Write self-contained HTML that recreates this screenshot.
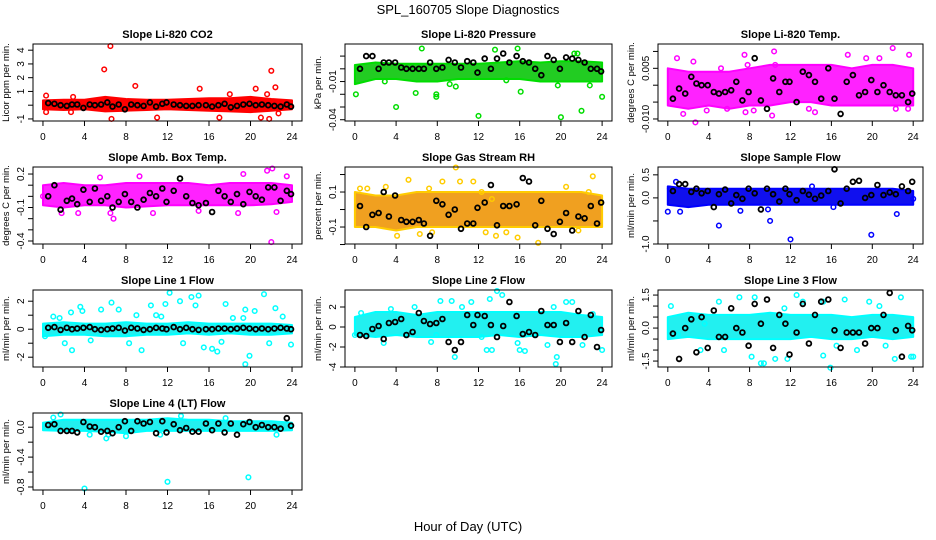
<!DOCTYPE html>
<html><head><meta charset="utf-8">
<style>
html,body{margin:0;padding:0;background:#fff;}
svg{display:block;font-family:"Liberation Sans",sans-serif;}
</style></head>
<body>
<svg id="chart" width="936" height="540" viewBox="0 0 936 540" xmlns="http://www.w3.org/2000/svg">
<rect x="0" y="0" width="936" height="540" fill="#fff"/>
<text x="468" y="14" text-anchor="middle" font-size="13">SPL_160705  Slope Diagnostics</text>
<text x="468" y="531" text-anchor="middle" font-size="13">Hour of Day (UTC)</text>
</svg>
<script>
const xTicks=[0,4,8,12,16,20,24];
const bandHours=[0,2,4,6,8,10,12,14,16,18,20,22,24];
const blkX=[0.5,1.1,1.7,2.3,2.8,3.3,3.9,4.5,5.0,5.6,6.2,6.7,7.3,7.9,8.5,9.1,9.7,10.3,10.9,11.5,11.9,12.6,13.2,13.8,14.4,15.0,15.7,16.3,16.9,17.5,18.1,18.7,19.3,19.9,20.5,21.1,21.7,22.3,22.9,23.5,23.9];

const co2Lo=[-0.3,-0.35,-0.3,-0.45,-0.4,-0.35,-0.3,-0.35,-0.4,-0.45,-0.5,-0.4,-0.3];
const co2Hi=[0.35,0.4,0.4,0.6,0.45,0.4,0.4,0.45,0.5,0.5,0.6,0.45,0.35];
const co2OutX=[6.5,5.9,22,22.4,8.9,15.1,20.5,11,6.6,17,21,21.8,0.3,2.9,18,21.6,0.3,2.7,22.7];
const co2OutY=[4.3,2.6,2.5,1.3,1.4,1.2,1.2,-0.9,-1,-0.9,-0.9,-1,0.7,0.6,0.8,0.8,-0.5,-0.5,-0.6];
const co2Blk=[0.15,0.1,0,-0.05,0.05,0.05,-0.2,0.05,0,0.05,0.2,-0.1,0.05,-0.3,0.05,0,-0.05,0.2,-0.1,0.1,0.2,0.05,0,-0.05,-0.05,0,0,-0.1,0,0.1,-0.15,-0.05,0.05,0.1,0,0.05,0,-0.05,-0.1,0.05,-0.1];

const prLo=[-0.012,-0.008,-0.008,-0.01,-0.01,-0.008,-0.008,-0.008,-0.008,-0.01,-0.01,-0.01,-0.01];
const prHi=[0.003,0.005,0.004,0.004,0.004,0.004,0.004,0.005,0.006,0.005,0.006,0.006,0.005];
const prOutX=[0.1,4,6.5,5.9,7.9,7.9,12,20,22,24,13.6,15.8,9.2,9.8,19.7,22.8,2.9,14.7,0.4,21.3,21.6,16.1];
const prOutY=[-0.02,-0.03,0.016,-0.019,-0.02,-0.022,-0.037,-0.038,-0.033,-0.022,0.015,0.016,-0.012,-0.014,-0.013,-0.013,-0.01,-0.009,0.0,0.012,0.012,-0.018];
const prBlk=[0,0.01,0.01,0,0.005,0.005,0.005,0.001,0,0,0,0,0.005,0,0.001,0.007,0.005,0.001,0.006,0.005,-0.003,0.008,0,0.008,0.012,0.005,0.01,0.006,0.005,0,-0.005,0.01,0.007,0,0.009,0.008,0.007,0.005,0,0,-0.002];

const tpLo=[-0.006,-0.007,-0.006,-0.007,-0.006,-0.006,-0.005,-0.005,-0.006,-0.006,-0.006,-0.006,-0.006];
const tpHi=[0.005,0.004,0.004,0.004,0.005,0.006,0.006,0.006,0.006,0.005,0.006,0.006,0.005];
const tpOutX=[0.9,2.5,5.2,7.5,7.8,10.4,10.5,17.6,19.4,20.7,22,23.6,1.5,3.8,5.8,7.6,8.4,10.2,14.4,22.3,23.5,2.7,13.8];
const tpOutY=[0.008,0.007,0.005,0.009,0.006,0.010,0.006,0.009,0.008,0.008,0.011,0.009,-0.0085,-0.0075,-0.007,-0.008,-0.0075,-0.009,-0.008,-0.007,-0.007,-0.011,-0.007];
const tpBlk=[-0.004,-0.001,-0.0025,0.0025,0.0005,0,0,-0.002,-0.0025,-0.002,-0.0015,0.001,-0.0045,-0.002,0.008,-0.0045,-0.007,0.002,-0.002,0.001,0.001,-0.005,0.004,0.003,0.001,-0.004,0.005,-0.004,-0.0085,0.001,0.003,-0.003,-0.002,0.0015,-0.002,0,-0.002,-0.003,-0.003,-0.005,-0.0025];

const abLo=[-0.08,-0.1,-0.08,-0.08,-0.1,-0.09,-0.08,-0.08,-0.08,-0.08,-0.08,-0.07,-0.05];
const abHi=[0.1,0.12,0.1,0.1,0.12,0.12,0.12,0.12,0.1,0.12,0.12,0.12,0.1];
const abOutX=[1.8,3.4,6.5,6.8,10.6,18.8,19.3,21.6,22.1,23.5,22,22.5,0,15,5.5,9.3];
const abOutY=[-0.15,-0.15,-0.15,-0.2,-0.15,-0.15,0.2,0.23,0.25,0.18,-0.41,-0.14,0,-0.13,0.17,0.18];
const abBlk=[0.0,0.1,-0.12,-0.04,-0.02,-0.07,0.06,-0.05,0.07,-0.04,0,-0.1,-0.05,0.02,-0.05,-0.1,-0.03,0.03,0,0.07,-0.05,0.05,0.16,0,-0.06,-0.08,-0.06,-0.14,0.05,0,-0.05,0.02,-0.07,0.04,0.0,-0.03,0.08,0.08,-0.04,0.05,0.02];

const rhLo=[-0.1,-0.1,-0.12,-0.1,-0.1,-0.1,-0.1,-0.1,-0.1,-0.1,-0.1,-0.1,-0.1];
const rhHi=[0.1,0.08,0.08,0.1,0.1,0.1,0.1,0.1,0.1,0.1,0.1,0.1,0.08];
const rhOutX=[0.5,1.2,3,5.2,7.2,8.5,9.8,10.2,11.5,12.3,13.3,4.1,6.3,7.5,12.7,13.7,14.7,15.8,17.8,21.7,23.1,20.5,22.7];
const rhOutY=[0.12,0.12,0.13,0.17,0.12,0.16,0.24,0.16,0.16,0.1,0.06,-0.15,-0.14,-0.13,-0.13,-0.15,-0.13,-0.16,-0.19,-0.12,0.19,0.13,0.1];
const rhBlk=[0.02,-0.1,-0.03,-0.02,0.1,-0.04,0.08,-0.06,-0.07,-0.07,-0.06,-0.08,-0.15,0.05,0.03,-0.03,0.0,-0.11,-0.08,-0.08,0.01,0.04,0.14,-0.09,0.02,0.02,0.03,0.18,0.16,-0.09,0.05,-0.11,-0.14,-0.07,-0.02,-0.12,-0.04,-0.05,0.02,-0.08,0.04];

const sfLo=[-0.15,-0.2,-0.15,-0.15,-0.15,-0.15,-0.15,-0.15,-0.15,-0.15,-0.15,-0.15,-0.15];
const sfHi=[0.25,0.2,0.2,0.2,0.2,0.2,0.2,0.2,0.2,0.2,0.2,0.2,0.15];
const sfOutX=[0,1.2,0.8,5,10,12,19.9,22.4,0.2,9.8,7.1,16.2,14.1,24];
const sfOutY=[-0.3,-0.3,0.35,-0.6,-0.5,-0.9,-0.8,-0.35,0.2,-0.25,-0.28,-0.2,0.25,-0.02];
const sfBlk=[0.15,0.3,0.3,0.13,0.2,0.1,0.15,-0.2,0.08,0.18,-0.12,0.06,-0.02,0.2,0.1,-0.25,0.2,0.08,-0.08,0.2,0.08,-0.05,0.15,0.07,-0.02,0.05,0.15,0.62,-0.12,0.2,0.35,0.37,0.0,0.06,0.28,0.06,0.12,0.08,0.25,0.15,0.35];

const l1Lo=[-0.5,-0.4,-0.4,-0.5,-0.5,-0.4,-0.4,-0.3,-0.4,-0.3,-0.4,-0.4,-0.3];
const l1Hi=[0.4,0.5,0.4,0.4,0.5,0.4,0.4,0.5,0.4,0.4,0.4,0.4,0.3];
const l1OutX=[0.2,1,1.6,2.7,3.6,3.8,2.1,2.8,6.6,5.6,4.6,7.3,8.3,9.5,10.4,11.4,11.8,12.2,13.2,13.5,14.3,15,14.7,15.5,16.3,16.8,17.6,18.3,19.3,19.5,19.5,19.9,20.4,21.3,21.8,22.4,23.1,23.9,17.2,9,10.9];
const l1OutY=[-0.5,0.9,0.8,1.2,1.6,1.3,-1,-1.5,1.9,1.4,-0.8,1.4,-1,-1.5,1.7,0.9,1.8,2.6,2,-1,2.3,2.4,1.7,-1.3,-1.4,-1.6,1.8,0.8,0.8,1.4,-2.5,-1.9,1.3,2.5,-1,1.5,0.9,-1.1,-0.9,1,1];
const l1Blk=[0.1,0.15,-0.05,0.1,0.0,0.05,0.1,0.15,0.0,-0.05,0.0,0.05,0.1,-0.1,0.1,0.05,-0.05,0.0,0.1,0.05,0.0,0.15,0.0,0.1,0.0,-0.05,0.0,0.0,0.05,0.05,0.0,0.05,0.1,0.05,0.0,0.05,0.0,0.05,0.1,0.05,0.0];

const l2Lo=[-0.8,-1,-0.8,-1,-1,-1,-1,-0.8,-1,-0.8,-1,-1,-0.8];
const l2Hi=[1,1.5,1.5,1.2,1.5,1.5,1.5,1.5,1.5,1.5,1.5,1.2,1];
const l2OutX=[0.6,2.8,3.5,5.8,7.4,8.3,9.4,9.7,10.4,11.3,12.3,12.8,13.1,13.8,14.3,13.3,15.8,16,16.5,18.7,19.3,19.5,19.6,20.5,21.1,22.1,23.1,24,7.9,0];
const l2OutY=[1.4,-1.6,1.8,2,-1.5,2.6,2.6,-3,2,2.5,-1,-2.3,2.8,3.6,3.2,-2.3,-1.6,-2.3,-2.4,-1.8,2,-3.7,-3,2.5,2.5,-1.8,1.3,-2.3,-0.8,-0.8];
const l2Blk=[-0.8,-0.9,-0.2,0.1,-1.2,0.4,0.5,0.8,-0.8,-0.5,1.4,0.6,0.3,0.4,0.8,-1.5,-2.3,-1.5,1.2,0.2,1.2,1.1,0.2,-1,0.1,2.5,1.1,-0.7,-0.5,-0.8,1.6,0.2,0.2,-1.5,0.4,-1.5,1.6,-1,1.2,-2,-0.3];

const l3Lo=[-0.5,-0.4,-0.5,-0.5,-0.5,-0.5,-0.5,-0.4,-0.5,-0.5,-0.4,-0.5,-0.4];
const l3Hi=[0.5,0.7,0.6,0.6,0.6,0.7,0.6,0.6,0.6,0.5,0.6,0.6,0.5];
const l3OutX=[0.3,1,3.2,3.6,5,5.5,7,8.5,9.1,9.4,8.2,10.5,11.7,11.4,12.6,13.2,15.2,15.2,15.9,17.3,18.5,19.7,20.7,21.3,22.2,22.8,23.8,24,16.5];
const l3OutY=[1.0,-0.3,-1,0.2,1.2,-1,1.4,1.4,-1.6,-1.6,-1.3,-1.4,-1.4,0.9,1.5,1.2,1.2,-1.25,-1.8,1.3,-1.0,1.2,1.0,-0.8,-1.4,1.4,-1.3,-1.3,-0.8];
const l3Blk=[-0.25,-1.4,0,0.4,-1.1,0.5,-0.9,0.8,-0.4,-0.4,0.9,0.0,-0.2,-0.8,1.1,0.2,1.3,-0.9,0.6,0.2,-1.2,-0.2,1.1,-0.7,0.6,1.2,1.3,-0.1,-0.9,-0.2,-0.2,-0.2,-0.7,0.0,0.0,0.6,1.6,-0.1,-1.3,0.1,-0.1];

const l4Lo=[-0.04,-0.05,-0.05,-0.06,-0.08,-0.05,-0.05,-0.05,-0.05,-0.05,-0.05,-0.05,-0.04];
const l4Hi=[0.06,0.1,0.1,0.1,0.1,0.1,0.12,0.1,0.1,0.08,0.08,0.08,0.06];
const l4OutX=[1.7,1,6.1,4,12,19.8,13.3,17.6,4.5,8,11.3,22.5,6.3];
const l4OutY=[0.17,0.13,-0.15,-0.82,-0.73,-0.67,0.15,0.12,-0.1,-0.12,-0.1,-0.1,-0.1];
const l4Blk=[0.03,0.04,-0.05,-0.05,-0.05,-0.07,0.07,0.01,0.0,-0.06,-0.05,-0.08,0.0,0.08,-0.05,0.08,0.05,0.07,-0.08,0.08,-0.07,0.04,-0.04,-0.01,-0.06,-0.06,0.05,-0.04,0.05,-0.07,0.05,-0.1,0.04,0.07,0.0,0.03,0.0,0.0,-0.02,0.12,0.02];

const NS="http://www.w3.org/2000/svg";
const svg=document.getElementById('chart');
const colX=[[33,302],[345,612],[658,923]];
const rowY=[44,167,290,413];
const BH=77;
function mk(tag,attrs,parent){const e=document.createElementNS(NS,tag);for(const k in attrs)e.setAttribute(k,attrs[k]);(parent||svg).appendChild(e);return e;}

const panels=[
 {id:'co2',title:'Slope Li-820 CO2',ylab:'Licor ppm per min.',c:0,r:0,ymin:-1.15,ymax:4.45,yt:[-1,0,1,2,3,4],yl:['-1','','1','2','3','4'],col:'#ff0000',fill:'#ff0000',lo:co2Lo,hi:co2Hi,ox:co2OutX,oy:co2OutY,blk:co2Blk},
 {id:'pressure',title:'Slope Li-820 Pressure',ylab:'kPa per min.',c:1,r:0,ymin:-0.041,ymax:0.0195,yt:[-0.04,-0.03,-0.02,-0.01,0,0.01],yl:['-0.04','','','-0.01','',''],col:'#00dd00',fill:'#22cc22',lo:prLo,hi:prHi,ox:prOutX,oy:prOutY,blk:prBlk},
 {id:'li820-temp',title:'Slope Li-820 Temp.',ylab:'degrees C per min.',c:2,r:0,ymin:-0.0106,ymax:0.0122,yt:[-0.01,-0.005,0,0.005,0.01],yl:['-0.010','','','0.005',''],col:'#ff00ff',fill:'#ff22ff',lo:tpLo,hi:tpHi,ox:tpOutX,oy:tpOutY,blk:tpBlk},
 {id:'amb-box-temp',title:'Slope Amb. Box Temp.',ylab:'degrees C per min.',c:0,r:1,ymin:-0.427,ymax:0.263,yt:[-0.4,-0.3,-0.2,-0.1,0,0.1,0.2],yl:['-0.4','','','-0.1','','','0.2'],col:'#ff00ff',fill:'#ff22ff',lo:abLo,hi:abHi,ox:abOutX,oy:abOutY,blk:abBlk},
 {id:'gas-stream-rh',title:'Slope Gas Stream RH',ylab:'percent per min.',c:1,r:1,ymin:-0.197,ymax:0.243,yt:[-0.2,-0.1,0,0.1,0.2],yl:['','-0.1','','0.1',''],col:'#ffcc00',fill:'#f0a020',lo:rhLo,hi:rhHi,ox:rhOutX,oy:rhOutY,blk:rhBlk},
 {id:'sample-flow',title:'Slope Sample Flow',ylab:'ml/min per min.',c:2,r:1,ymin:-1.0,ymax:0.67,yt:[-1,-0.5,0,0.5],yl:['-1.0','','0.0','0.5'],col:'#0000ff',fill:'#1010ee',lo:sfLo,hi:sfHi,ox:sfOutX,oy:sfOutY,blk:sfBlk},
 {id:'line1-flow',title:'Slope Line 1 Flow',ylab:'ml/min per min.',c:0,r:2,ymin:-2.7,ymax:2.8,yt:[-2,-1,0,1,2],yl:['-2','','0','','2'],col:'#00ffff',fill:'#22f0f0',lo:l1Lo,hi:l1Hi,ox:l1OutX,oy:l1OutY,blk:l1Blk},
 {id:'line2-flow',title:'Slope Line 2 Flow',ylab:'ml/min per min.',c:1,r:2,ymin:-4.0,ymax:3.7,yt:[-4,-2,0,2],yl:['-4','-2','0','2'],col:'#00ffff',fill:'#22f0f0',lo:l2Lo,hi:l2Hi,ox:l2OutX,oy:l2OutY,blk:l2Blk},
 {id:'line3-flow',title:'Slope Line 3 Flow',ylab:'ml/min per min.',c:2,r:2,ymin:-1.77,ymax:1.73,yt:[-1.5,-1,-0.5,0,0.5,1,1.5],yl:['-1.5','','','0.0','','','1.5'],col:'#00ffff',fill:'#22f0f0',lo:l3Lo,hi:l3Hi,ox:l3OutX,oy:l3OutY,blk:l3Blk},
 {id:'line4-flow',title:'Slope Line 4 (LT) Flow',ylab:'ml/min per min.',c:0,r:3,ymin:-0.84,ymax:0.19,yt:[-0.8,-0.6,-0.4,-0.2,0],yl:['-0.8','','-0.4','','0.0'],col:'#00ffff',fill:'#22f0f0',lo:l4Lo,hi:l4Hi,ox:l4OutX,oy:l4OutY,blk:l4Blk}
];

panels.forEach(p=>{
 const L=colX[p.c][0],R=colX[p.c][1],T=rowY[p.r],B=T+BH;
 const xs=v=>L+(v+0.96)/25.92*(R-L);
 const ys=v=>B-(v-p.ymin)/(p.ymax-p.ymin)*BH;
 const g=mk('g',{});
 
 
 const t=mk('text',{x:(L+R)/2,y:T-6,'text-anchor':'middle','font-size':'11','font-weight':'bold'},g);
 t.textContent=p.title;
 
 
 let d='';
 bandHours.forEach((h,i)=>{d+=(i?'L':'M')+xs(h).toFixed(1)+','+ys(p.hi[i]).toFixed(1);});
 for(let i=bandHours.length-1;i>=0;i--){d+='L'+xs(bandHours[i]).toFixed(1)+','+ys(p.lo[i]).toFixed(1);}
 const band=mk('path',{d:d+'Z',fill:p.fill,stroke:p.col,'stroke-width':'2','stroke-linejoin':'round'},g);
 
 
 p.ox.forEach((x,i)=>{
  const c=mk('circle',{cx:xs(x).toFixed(1),cy:ys(p.oy[i]).toFixed(1),r:'2.3',fill:'none',stroke:p.col,'stroke-width':'1.5'},g);
  
  
 });
 const n=Math.min(blkX.length,p.blk.length);
 for(let i=0;i<n;i++){
  const c=mk('circle',{cx:xs(blkX[i]).toFixed(1),cy:ys(p.blk[i]).toFixed(1),r:'2.4',fill:'none',stroke:'#000','stroke-width':'1.8'},g);
  
  
 }
 const box=mk('rect',{x:L,y:T,width:R-L,height:BH,fill:'none',stroke:'#000','stroke-width':'1'},g);
 
 
 xTicks.forEach(v=>{
  const X=xs(v);
  const tk=mk('line',{x1:X,x2:X,y1:B,y2:B+5,stroke:'#000'},g);
  
  
  const tl=mk('text',{x:X,y:B+19,'text-anchor':'middle','font-size':'10'},g);
  tl.textContent=String(v);
  
  
 });
 p.yt.forEach((v,i)=>{
  const Y=ys(v);
  const tk=mk('line',{x1:L-5,x2:L,y1:Y,y2:Y,stroke:'#000'},g);
  
  
  if(p.yl[i]){
   const tl=mk('text',{x:L-9,y:Y,'text-anchor':'middle','font-size':'10',transform:'rotate(-90 '+(L-9)+' '+Y+')'},g);
   tl.textContent=p.yl[i];
   
   
  }
 });
 const yt=mk('text',{x:L-24,y:(T+B)/2,'text-anchor':'middle','font-size':'9.5',transform:'rotate(-90 '+(L-24)+' '+((T+B)/2)+')'},g);
 yt.textContent=p.ylab;
 
 
});
</script>
</body></html>
